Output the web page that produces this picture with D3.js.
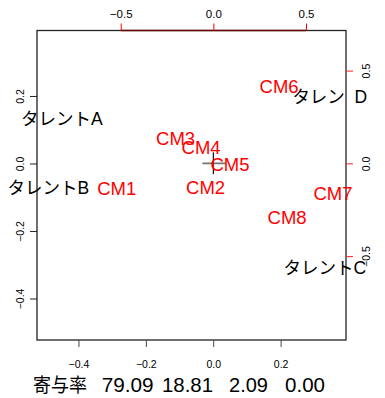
<!DOCTYPE html>
<html>
<head>
<meta charset="utf-8">
<script src="https://cdn.jsdelivr.net/npm/d3@7"></script>
<style>
  body { margin: 0; background: #fff; }
  svg { display: block; }
  text.lbl { white-space: pre; }
</style>
</head>
<body>
<div id="chart"></div>
<script>
// Row points (talents): coordinates on the primary (bottom/left) axes
const talentNames = ["タレントA", "タレントB", "タレントC", "タレン  D"];
const talentX = [-0.449, -0.489, 0.331, 0.346];
const talentY = [0.132, -0.073, -0.310, 0.197];

// Column points (commercials): coordinates on the secondary (top/right) axes
const cmNames = ["CM1", "CM2", "CM3", "CM4", "CM5", "CM6", "CM7", "CM8"];
const cmX = [-0.522, -0.042, -0.204, -0.066, 0.090, 0.355, 0.646, 0.398];
const cmY = [-0.133, -0.127, 0.134, 0.089, -0.003, 0.416, -0.160, -0.289];

// Axis limits and ticks
const primaryLim = [-0.523, 0.394];
const secondaryLim = [-0.952, 0.716];
const primaryTicks = [-0.4, -0.2, 0.0, 0.2];
const secondaryTicks = [-0.5, 0.0, 0.5];

// Contribution ratios (%) per dimension
const contribLabel = "寄与率";
const contrib = [79.09, 18.81, 2.09, 0.00];

const W = 385, H = 398;
const box = { left: 37, right: 346, top: 30.5, bottom: 340 };

const svg = d3.select("#chart").append("svg")
  .attr("width", W).attr("height", H);

const x1 = d3.scaleLinear().domain(primaryLim).range([box.left, box.right]);
const y1 = d3.scaleLinear().domain(primaryLim).range([box.bottom, box.top]);
const x2 = d3.scaleLinear().domain(secondaryLim).range([box.left, box.right]);
const y2 = d3.scaleLinear().domain(secondaryLim).range([box.bottom, box.top]);

const fmt = d3.format(".1f");
const tickFont = "'Liberation Sans', Arial, sans-serif";
const labelFont = "'Liberation Sans', Arial, 'Noto Sans CJK JP', sans-serif";

// Plot frame
svg.append("rect")
  .attr("x", box.left).attr("y", box.top)
  .attr("width", box.right - box.left).attr("height", box.bottom - box.top)
  .attr("fill", "none").attr("stroke", "#222").attr("stroke-width", 1.3);

// Bottom axis (primary x)
const axBottom = svg.append("g").attr("transform", `translate(0,${box.bottom})`)
  .call(d3.axisBottom(x1).tickValues(primaryTicks).tickFormat(fmt).tickSize(7).tickPadding(14));
axBottom.select(".domain").remove();
axBottom.selectAll(".tick line").attr("stroke", "#444");
axBottom.selectAll(".tick text").attr("font-family", tickFont).attr("font-size", 10.5).attr("fill", "#000");

// Left axis (primary y), labels rotated
const axLeft = svg.append("g").attr("transform", `translate(${box.left},0)`)
  .call(d3.axisLeft(y1).tickValues(primaryTicks).tickFormat(fmt).tickSize(7));
axLeft.select(".domain").remove();
axLeft.selectAll(".tick line").attr("stroke", "#222");
axLeft.selectAll(".tick text")
  .attr("font-family", tickFont).attr("font-size", 10.5).attr("fill", "#000")
  .attr("text-anchor", "middle")
  .attr("x", null).attr("dy", null)
  .attr("transform", "translate(-13,0) rotate(-90)");

// Top axis (secondary x)
svg.append("line")
  .attr("x1", x2(secondaryTicks[0])).attr("x2", x2(secondaryTicks[secondaryTicks.length - 1]))
  .attr("y1", box.top).attr("y2", box.top)
  .attr("stroke", "#6a0808").attr("stroke-width", 1.3);
const axTop = svg.append("g").attr("transform", `translate(0,${box.top})`)
  .call(d3.axisTop(x2).tickValues(secondaryTicks).tickFormat(fmt).tickSize(7).tickPadding(6));
axTop.select(".domain").remove();
axTop.selectAll(".tick line").attr("stroke", "#ff0000");
axTop.selectAll(".tick text").attr("font-family", tickFont).attr("font-size", 11.5).attr("fill", "#000");

// Right axis (secondary y), labels rotated
const axRight = svg.append("g").attr("transform", `translate(${box.right},0)`)
  .call(d3.axisRight(y2).tickValues(secondaryTicks).tickFormat(fmt).tickSize(7));
axRight.select(".domain").remove();
axRight.selectAll(".tick line").attr("stroke", "#ff2020");
axRight.selectAll(".tick text")
  .attr("font-family", tickFont).attr("font-size", 10.5).attr("fill", "#000")
  .attr("text-anchor", "middle")
  .attr("x", null).attr("dy", null)
  .attr("transform", "translate(24,0) rotate(-90)");

// Origin cross
const ox = x2(0), oy = y2(0);
svg.append("line").attr("x1", ox - 11).attr("x2", ox + 12).attr("y1", oy).attr("y2", oy)
  .attr("stroke", "#777").attr("stroke-width", 1.8);
svg.append("line").attr("x1", ox).attr("x2", ox).attr("y1", oy - 11).attr("y2", oy + 11)
  .attr("stroke", "#111").attr("stroke-width", 1.2);

// Talent labels (black)
svg.append("g").selectAll("text").data(talentNames).join("text")
  .attr("class", "lbl")
  .attr("x", (d, i) => x1(talentX[i]))
  .attr("y", (d, i) => y1(talentY[i]))
  .attr("dy", "0.36em")
  .attr("text-anchor", "middle")
  .attr("font-family", labelFont).attr("font-size", 17.5)
  .attr("fill", "#000")
  .text(d => d);

// CM labels (red)
svg.append("g").selectAll("text").data(cmNames).join("text")
  .attr("x", (d, i) => x2(cmX[i]))
  .attr("y", (d, i) => y2(cmY[i]))
  .attr("dy", "0.36em")
  .attr("text-anchor", "middle")
  .attr("font-family", labelFont).attr("font-size", 18.5)
  .attr("fill", "#ff0000")
  .text(d => d);

// Contribution line under the plot
const contribStarts = [101.7, 162, 229, 285];
const contribWidths = [52, 51, 39, 40];
const foot = svg.append("g").attr("font-family", "'Liberation Sans', 'Noto Sans CJK JP', sans-serif")
  .attr("font-size", 19.5).attr("fill", "#000");
foot.append("text").attr("x", 33).attr("y", 392)
  .attr("textLength", 54).attr("lengthAdjust", "spacingAndGlyphs")
  .text(contribLabel);
foot.selectAll("text.v").data(contrib).join("text").attr("class", "v")
  .attr("x", (d, i) => contribStarts[i]).attr("y", 392)
  .attr("textLength", (d, i) => contribWidths[i]).attr("lengthAdjust", "spacingAndGlyphs")
  .text(d => d3.format(".2f")(d));
</script>
</body>
</html>
